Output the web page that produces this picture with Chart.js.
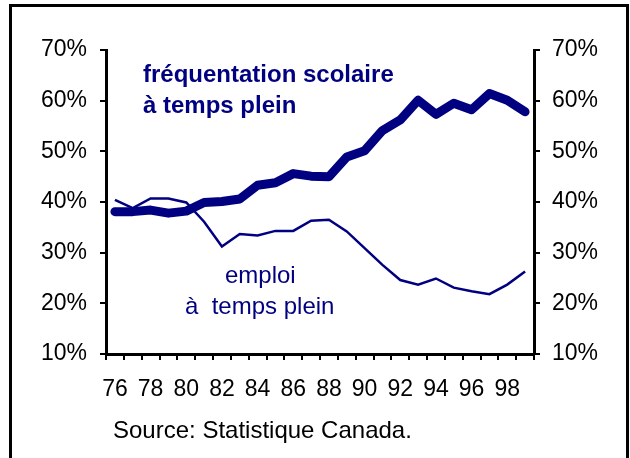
<!DOCTYPE html>
<html lang="fr">
<head>
<meta charset="utf-8" />
<title>Fréquentation scolaire et emploi à temps plein</title>
<script src="https://cdn.jsdelivr.net/npm/chart.js@4.4.1/dist/chart.umd.min.js"></script>
<style>
    html, body { margin: 0; padding: 0; background: #fff; }
    #wrap { position: relative; width: 630px; height: 458px; }
</style>
</head>
<body>
<div id="wrap"><canvas id="chart" width="630" height="458"></canvas></div>
<script>
    // years 1976 - 1999
    const years = ['76','77','78','79','80','81','82','83','84','85','86','87',
                   '88','89','90','91','92','93','94','95','96','97','98','99'];

    // full-time school attendance (%)
    const frequentation = [38.1, 38.1, 38.4, 37.8, 38.2, 39.9, 40.1, 40.6, 43.3, 43.8, 45.6, 45.1,
                           45.0, 48.9, 50.1, 54.1, 56.2, 60.1, 57.3, 59.5, 58.2, 61.4, 60.1, 57.8];

    // full-time employment (%)
    const emploi = [40.4, 38.8, 40.7, 40.7, 39.9, 36.1, 31.2, 33.7, 33.4, 34.3, 34.3, 36.3,
                    36.5, 34.2, 30.9, 27.6, 24.6, 23.7, 24.9, 23.1, 22.4, 21.8, 23.7, 26.3];

    const yTicks = [10, 20, 30, 40, 50, 60, 70];

    const navy = '#000080';
    const font = '"Liberation Sans", Arial, sans-serif';

    // labels inside the plot + source + outer frame
    const extras = {
        id: 'extras',
        afterDraw(chart) {
            const ctx = chart.ctx;
            ctx.save();
            ctx.fillStyle = navy;
            ctx.textBaseline = 'alphabetic';
            ctx.textAlign = 'left';
            ctx.font = 'bold 24px ' + font;
            ctx.fillText('fréquentation scolaire', 143, 82);
            ctx.fillText('à temps plein', 143, 113);
            ctx.font = '24px ' + font;
            ctx.fillText('emploi', 225, 283);
            ctx.fillText('à  temps plein', 185, 314);

            ctx.fillStyle = '#000';
            ctx.fillText('Source: Statistique Canada.', 113, 438);

            ctx.strokeStyle = '#000';
            ctx.lineWidth = 3;
            ctx.strokeRect(10.5, 5.5, 617, 470);
            ctx.restore();
        }
    };

    const yAxis = (pos, w, pad) => ({
        type: 'linear',
        position: pos,
        min: 10,
        max: 70,
        afterFit(scale) { scale.width = w; },
        ticks: {
            stepSize: 5,
            padding: pad,
            color: '#000',
            font: { family: font, size: 23 },
            callback: v => yTicks.includes(v) ? v + '%' : ''
        },
        grid: {
            drawOnChartArea: false,
            drawTicks: true,
            tickLength: 6,
            color: '#000',
            lineWidth: 2
        },
        border: { display: true, color: '#000', width: 3 }
    });

    new Chart(document.getElementById('chart'), {
        type: 'line',
        data: {
            labels: years,
            datasets: [
                {
                    label: 'fréquentation scolaire à temps plein',
                    data: frequentation,
                    borderColor: navy,
                    borderWidth: 9,
                    borderJoinStyle: 'round',
                    borderCapStyle: 'round',
                    pointRadius: 0,
                    tension: 0,
                    yAxisID: 'y'
                },
                {
                    label: 'emploi à temps plein',
                    data: emploi,
                    borderColor: navy,
                    borderWidth: 2.5,
                    pointRadius: 0,
                    tension: 0,
                    yAxisID: 'y'
                }
            ]
        },
        options: {
            responsive: false,
            animation: false,
            layout: { padding: { top: 50, left: 0, right: 0, bottom: 0 } },
            plugins: {
                legend: { display: false },
                tooltip: { enabled: false }
            },
            scales: {
                x: {
                    type: 'category',
                    offset: true,
                    afterFit(scale) { scale.height = 104; },
                    ticks: {
                        autoSkip: false,
                        maxRotation: 0,
                        minRotation: 0,
                        padding: 16,
                        color: '#000',
                        font: { family: font, size: 23 },
                        callback(v, i) { return i % 2 === 0 ? years[i] : ''; }
                    },
                    grid: {
                        offset: true,
                        drawOnChartArea: false,
                        drawTicks: true,
                        tickLength: 6,
                        color: '#000',
                        lineWidth: 2
                    },
                    border: { display: true, color: '#000', width: 3 }
                },
                y: yAxis('left', 106, 13),
                y2: Object.assign(yAxis('right', 96, 12), {
                    afterDataLimits(scale) { scale.min = 10; scale.max = 70; }
                })
            }
        },
        plugins: [extras]
    });
</script>
</body>
</html>
